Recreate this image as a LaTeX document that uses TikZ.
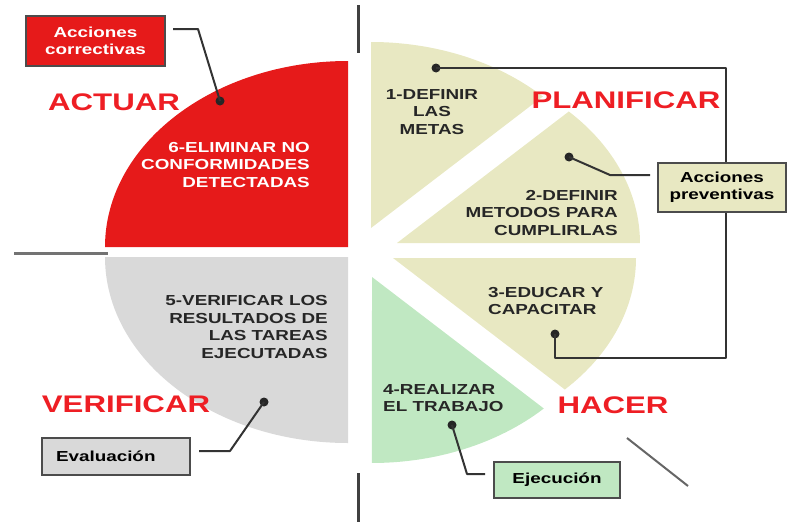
\documentclass[tikz,border=0pt]{standalone}
\usepackage{fontspec}
\setmainfont{Liberation Sans}
\newfontfamily\pdcafont[FakeStretch=1.3]{Liberation Sans}
\usetikzlibrary{positioning}

\definecolor{actred}{RGB}{230,26,26}
\definecolor{titlered}{RGB}{238,30,36}
\definecolor{planyellow}{RGB}{232,232,194}
\definecolor{hacgreen}{RGB}{192,232,194}
\definecolor{vergrey}{RGB}{217,217,217}

\begin{document}
\begin{tikzpicture}[x=1pt,y=-1pt,
	wedgetext/.style={font={\pdcafont\bfseries\fontsize{14.5}{17.5}\selectfont},inner sep=0pt,text=black!85},
	phase/.style={font={\pdcafont\bfseries\fontsize{24}{28}\selectfont},inner sep=0pt,text=titlered},
	notebox/.style={draw=black!70,line width=1.5pt,font={\pdcafont\bfseries\fontsize{14.5}{17}\selectfont},inner sep=0pt,align=center},
	dot/.style={circle,fill=black!85,inner sep=0pt,minimum size=9pt},
	link/.style={line width=2pt,draw=black!80,line join=round}]
	\useasboundingbox (0,0) rectangle (787,522);
	% quadrants
	\fill[actred] (348,247) -- ++(-243,0) arc[start angle=180,end angle=270,x radius=243,y radius=186] -- cycle;
	\fill[vergrey] (348,257) -- ++(-243,0) arc[start angle=180,end angle=90,x radius=243,y radius=186] -- cycle;
	\fill[planyellow] (371,228) -- ++(0,-186) arc[start angle=270,end angle=315,x radius=243,y radius=186] -- cycle;
	\fill[planyellow] (397,243) -- ++(0.707*243,-0.707*186) arc[start angle=315,end angle=360,x radius=243,y radius=186] -- cycle;
	\fill[planyellow] (393,258) -- ++(243,0) arc[start angle=0,end angle=45,x radius=243,y radius=186] -- cycle;
	\fill[hacgreen] (372,277) -- ++(0.707*243,0.707*186) arc[start angle=45,end angle=90,x radius=243,y radius=186] -- cycle;
	% axes
	\draw[black!75,line width=3pt] (358,5) -- (358,53);
	\draw[black!75,line width=3pt] (358,473) -- (358,522);
	\draw[black!55,line width=3pt] (14,253) -- (108,253);
	\draw[black!60,line width=2pt] (627,438) -- (688,486);
	% phases
	\node[phase] (actuar) at (114,102) {ACTUAR};
	\node[phase] (planificar) at (626,100) {PLANIFICAR};
	\node[phase] (verificar) at (126,404) {VERIFICAR};
	\node[phase] (hacer) at (613,405) {HACER};
	% steps
	\node[wedgetext,align=center] (paso1) at (432,112) {1-DEFINIR\\LAS\\METAS};
	\node[wedgetext,align=right,anchor=east] (paso2) at (618,213) {2-DEFINIR\\METODOS PARA\\CUMPLIRLAS};
	\node[wedgetext,align=left,anchor=west] (paso3) at (488,301) {3-EDUCAR Y\\CAPACITAR};
	\node[wedgetext,align=left,anchor=west] (paso4) at (383,398) {4-REALIZAR\\EL TRABAJO};
	\node[wedgetext,align=right,anchor=east] (paso5) at (328,327) {5-VERIFICAR LOS\\RESULTADOS DE\\LAS TAREAS\\EJECUTADAS};
	\node[wedgetext,align=right,anchor=east,text=white] (paso6) at (310,165) {6-ELIMINAR NO\\CONFORMIDADES\\DETECTADAS};
	% dots
	\node[dot] (d1) at (436,68) {};
	\node[dot] (d2) at (569,157) {};
	\node[dot] (d3) at (555,334) {};
	\node[dot] (d4) at (452,425) {};
	\node[dot] (d5) at (264,402) {};
	\node[dot] (d6) at (220,101) {};
	\coordinate (e2) at (650,175);
	\coordinate (e4) at (485,474);
	\coordinate (e5) at (199,451);
	\coordinate (e6) at (173,29);
	% links
	\draw[link] (d1.center) -- (726,68) -- (726,358) -- (555,358) -- (d3.center);
	\draw[link] (d2.center) -- (610,175) -- (e2);
	\draw[link] (d4.center) -- (467,474) -- (e4);
	\draw[link] (d5.center) -- (230,451) -- (e5);
	\draw[link] (d6.center) -- (198,29) -- (e6);
	% notes
	\node[notebox,fill=actred,text=white,minimum width=139pt,minimum height=50pt] (correctivas) at (95.5,41) {Acciones\\correctivas};
	\node[notebox,fill=planyellow,minimum width=128pt,minimum height=49pt] (preventivas) at (722,187.5) {Acciones\\preventivas};
	\node[notebox,fill=vergrey,minimum width=148pt,minimum height=37pt,text width=120pt,inner xsep=14pt,align=left] (evaluacion) at (116,456.5) {Evaluación};
	\node[notebox,fill=hacgreen,minimum width=126pt,minimum height=36pt] (ejecucion) at (557,480) {Ejecución};
\end{tikzpicture}
\end{document}
